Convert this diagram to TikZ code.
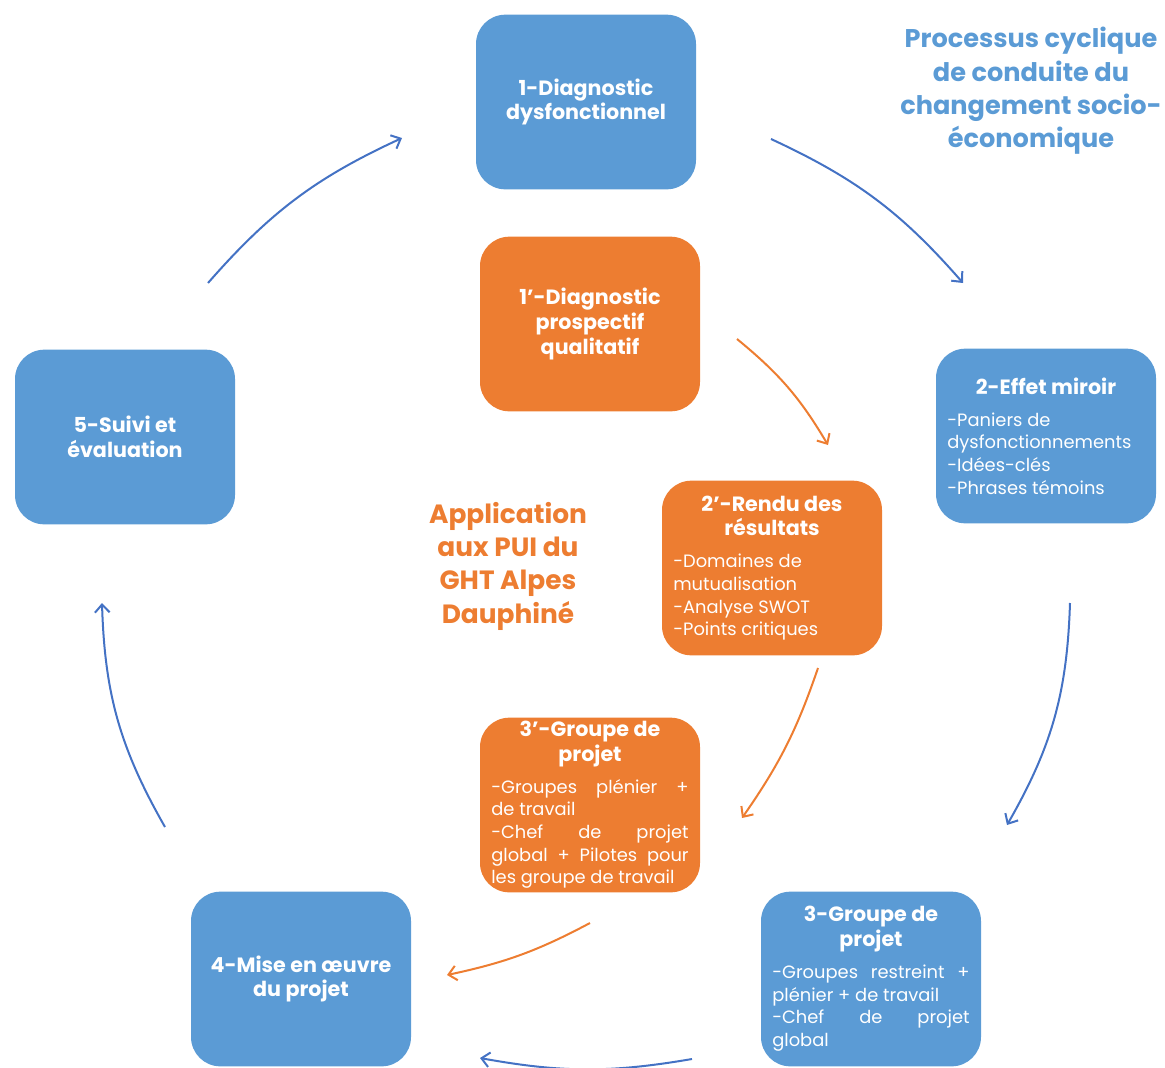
\documentclass[tikz,border=0pt]{standalone}
\usepackage{fontspec}
\setmainfont{Poppins}
\usetikzlibrary{arrows.meta}

\definecolor{bleuBoite}{HTML}{5B9BD5}
\definecolor{bleuFleche}{HTML}{4472C4}
\definecolor{orangeBoite}{HTML}{ED7D31}

\newcommand{\titreBoite}[1]{{\centering\fontsize{15.5}{18.5}\selectfont\bfseries #1\par}\vspace{7pt}}

\tikzset{
  boite/.style={rectangle,rounded corners=22pt,text=white,minimum width=165pt,minimum height=131pt,
    text width=148pt,inner sep=0pt,align=justify,font=\fontsize{13.4}{17}\selectfont},
  boiteBleue/.style={boite,fill=bleuBoite},
  boiteOrange/.style={boite,fill=orangeBoite},
  fleche/.style={draw=bleuFleche,line width=1.5pt,-{Straight Barb[length=6pt,width=11pt]}},
  flecheOrange/.style={fleche,draw=orangeBoite}
}

\begin{document}
\begin{tikzpicture}[x=0.75pt,y=-0.75pt]
  \useasboundingbox (0,0) rectangle (1165,1068);

  \node[boiteBleue] (diagnosticDysfonctionnel) at (586,102) {\titreBoite{1-Diagnostic\\dysfonctionnel}\vspace{-7pt}};
  \node[boiteBleue] (effetMiroir) at (1046,436) {\titreBoite{2-Effet miroir}
    -Paniers de\\dysfonctionnements\\-Idées-clés\\-Phrases témoins};
  \node[boiteBleue] (groupeDeProjet) at (871,979) {\titreBoite{3-Groupe de\\projet}
    -Groupes restreint +\linebreak plénier + de travail\\-Chef de projet\linebreak global};
  \node[boiteBleue] (miseEnOeuvre) at (301,979) {\titreBoite{4-Mise en œuvre\\du projet}\vspace{-7pt}};
  \node[boiteBleue] (suiviEvaluation) at (125,437) {\titreBoite{5-Suivi et\\évaluation}\vspace{-7pt}};

  \node[boiteOrange] (diagnosticProspectif) at (590,324) {\titreBoite{1'-Diagnostic\\prospectif\\qualitatif}\vspace{-7pt}};
  \node[boiteOrange] (renduResultats) at (772,568) {\titreBoite{2'-Rendu des\\résultats}
    -Domaines de\\mutualisation\\-Analyse SWOT\\-Points critiques};
  \node[boiteOrange] (groupeDeProjetPUI) at (590,805) {\titreBoite{3'-Groupe de\\projet}
    -Groupes plénier +\linebreak de travail\\-Chef de projet\linebreak global + Pilotes pour\linebreak les groupe de travail};

  \node[text=bleuBoite,align=center,font=\fontsize{19.2}{25}\selectfont\bfseries] (titreProcessus) at (1031,91)
    {Processus cyclique\\de conduite du\\changement socio-\\économique};
  \node[text=orangeBoite,align=center,font=\fontsize{19.8}{25}\selectfont\bfseries] (titreApplication) at (508,566)
    {Application\\aux PUI du\\GHT Alpes\\Dauphiné};

  % extremites des fleches
  \coordinate (depUnDeux) at (771,139);
  \coordinate (arrUnDeux) at (963,283);
  \coordinate (depDeuxTrois) at (1070,603);
  \coordinate (arrDeuxTrois) at (1007,825);
  \coordinate (depTroisQuatre) at (692,1059);
  \coordinate (arrTroisQuatre) at (480,1058);
  \coordinate (depQuatreCinq) at (165,827);
  \coordinate (arrQuatreCinq) at (102,603);
  \coordinate (depCinqUn) at (208,283);
  \coordinate (arrCinqUn) at (402,138);
  \coordinate (depUnDeuxPUI) at (737,339);
  \coordinate (arrUnDeuxPUI) at (828,445);
  \coordinate (depDeuxTroisPUI) at (818,668);
  \coordinate (arrDeuxTroisPUI) at (742,818);
  \coordinate (depTroisQuatrePUI) at (590,923);
  \coordinate (arrTroisQuatrePUI) at (447,975);

  \path (depUnDeux) edge[fleche,bend left=12] (arrUnDeux);
  \path (depDeuxTrois) edge[fleche,bend left=14] (arrDeuxTrois);
  \path (depTroisQuatre) edge[fleche,bend left=10] (arrTroisQuatre);
  \path (depQuatreCinq) edge[fleche,bend left=14] (arrQuatreCinq);
  \path (depCinqUn) edge[fleche,bend left=12] (arrCinqUn);
  \path (depUnDeuxPUI) edge[flecheOrange,bend left=10] (arrUnDeuxPUI);
  \path (depDeuxTroisPUI) edge[flecheOrange,bend left=8] (arrDeuxTroisPUI);
  \path (depTroisQuatrePUI) edge[flecheOrange,bend left=8] (arrTroisQuatrePUI);
\end{tikzpicture}
\end{document}
